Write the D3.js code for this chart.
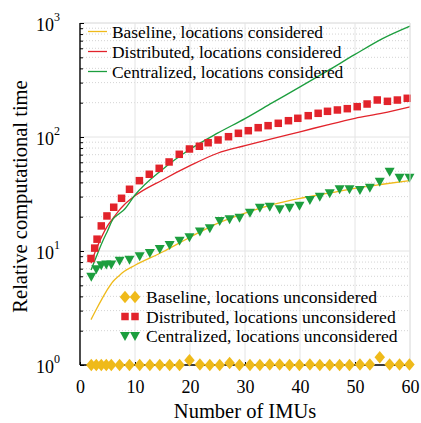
<!DOCTYPE html>
<html>
<head>
<meta charset="utf-8">
<script src="https://cdn.jsdelivr.net/npm/d3@7"></script>
<style>
  body { margin: 0; background: #fff; }
  svg text { font-family: "Liberation Serif", "DejaVu Serif", serif; }
</style>
</head>
<body>
<div id="graph"></div>
<script>

// lines: locations considered
const lineX = [2, 3, 4, 5, 6, 7, 8, 10, 15, 20, 25, 30, 35, 40, 45, 50, 55, 60];
const baselineCons    = [2.5, 3.1, 3.8, 4.6, 5.4, 6.0, 6.6, 7.5, 9.8, 13.2, 17.5, 21.5, 25.5, 29, 32, 35.5, 38.5, 41.5];
const distributedCons = [7.8, 10.5, 13.5, 16.6, 19.3, 22.4, 25.3, 30.5, 42, 56, 72, 84, 97, 111, 128, 146, 162, 184];
const centralizedCons = [6.8, 9, 11.8, 15, 19, 21, 23, 31, 52, 78, 108, 145, 200, 275, 380, 530, 730, 940];

// markers: locations unconsidered
const diamondX = [2.05, 2.96, 3.87, 4.78, 5.69, 7.2, 9.0, 10.85, 12.7, 14.5, 16.3, 18.1, 19.9, 21.8, 23.6,
  25.4, 27.2, 29.0, 30.9, 32.7, 34.5, 36.3, 38.1, 39.9, 41.8, 43.6, 45.4, 47.2, 49.0, 50.9, 52.7, 54.5, 56.3, 58.1, 59.9];
const baselineUncons = [1, 1, 1, 1, 1, 1, 1, 1, 1, 1, 1, 1, 1.1, 1.01, 1, 1, 1.04, 1, 1, 1, 1.01, 1.01, 1, 1, 1.01,
  1, 1, 1, 1, 1.01, 1.01, 1.17, 1.01, 1.01, 1.01];

const triangleX = diamondX;
const centralizedUncons = [5.95, 6.9, 7.5, 7.6, 7.6, 8.2, 8.4, 9.0, 9.6, 10.4, 11.3, 12.3, 13.2, 14.8, 15.8,
  18.3, 19.0, 19.6, 21.7, 24.0, 24.5, 23.2, 24, 25, 28, 29.9, 32.1, 34.8, 34.8, 34.3, 35.9, 40.5, 49.6, 44, 44];

const squareX = [2.0, 2.67, 3.1, 3.87, 4.9, 6.13, 7.55, 9.0, 10.8, 12.6, 14.4, 16.2, 18.05, 19.9, 21.7, 23.3,
  25.1, 27.0, 28.8, 30.6, 32.4, 34.2, 36.05, 37.9, 39.6, 41.5, 43.3, 45.0, 46.8, 48.6, 50.4, 52.2, 54.05, 55.9, 57.7, 59.5];
const distributedUncons = [8.6, 10.6, 12.7, 16.6, 20.3, 24.2, 29, 34.8, 41.4, 47.1, 53.1, 60.4, 70.5, 78.5, 83, 89.1,
  94.2, 100.6, 107.8, 113.6, 120.7, 125.7, 131.9, 139, 145.9, 153.8, 161.4, 168, 172.6, 177.2, 184.5, 194.7, 211.2, 205.6, 211, 218.5];

const xTicks = [0, 10, 20, 30, 40, 50, 60];
const yTicks = [1, 10, 100, 1000];

const legendTop = ["Baseline, locations considered", "Distributed, locations considered", "Centralized, locations considered"];
const legendBottom = ["Baseline, locations unconsidered", "Distributed, locations unconsidered", "Centralized, locations unconsidered"];

const yellow = "#EFBA1A", red = "#E2232B", green = "#1C9E3E";
const serif = "Liberation Serif";

var margin = {top: 23, right: 11, bottom: 58, left: 80},
    W = 421, H = 423,
    width = W - margin.left - margin.right,
    height = H - margin.top - margin.bottom;

var svg = d3.select("#graph").append("svg")
    .attr("width", W)
    .attr("height", H)
    .attr("font-family", serif)
  .append("g")
    .attr("transform", "translate(" + margin.left + "," + margin.top + ")");

var x = d3.scaleLinear().domain([0, 60]).range([0, width]);
var y = d3.scaleLog().domain([1, 1000]).range([height, 0]);

// minor dotted grid
var minor = [];
[1, 10, 100].forEach(function(d) {
  for (var k = 2; k <= 9; k++) minor.push(d * k);
});
svg.selectAll(".minorGrid")
  .data(minor)
  .enter().append("line")
  .attr("x1", 0).attr("x2", width)
  .attr("y1", d => y(d)).attr("y2", d => y(d))
  .attr("stroke", "#d4d4d4")
  .attr("stroke-width", 1)
  .attr("stroke-dasharray", "1,2");

// major grid
svg.selectAll(".majorGridY")
  .data(yTicks)
  .enter().append("line")
  .attr("x1", 0).attr("x2", width)
  .attr("y1", d => y(d)).attr("y2", d => y(d))
  .attr("stroke", "#e4e4e4");

svg.selectAll(".majorGridX")
  .data(xTicks.slice(1))
  .enter().append("line")
  .attr("x1", d => x(d)).attr("x2", d => x(d))
  .attr("y1", 0).attr("y2", height)
  .attr("stroke", "#e4e4e4");

// lines
var line = d3.line()
  .x(d => x(d[0]))
  .y(d => y(d[1]))
  .curve(d3.curveMonotoneX);

[[baselineCons, yellow], [distributedCons, red], [centralizedCons, green]].forEach(function(s) {
  svg.append("path")
    .datum(lineX.map((v, i) => [v, s[0][i]]))
    .attr("d", line)
    .attr("fill", "none")
    .attr("stroke", s[1])
    .attr("stroke-width", 1.3);
});

// marker shapes
function diamond(s) { return "M0," + (-s * 0.6) + "L" + (s * 0.5) + ",0L0," + (s * 0.6) + "L" + (-s * 0.5) + ",0Z"; }
function square(s) { return "M" + (-s / 2) + "," + (-s / 2) + "h" + s + "v" + s + "h" + (-s) + "Z"; }
function triangle(s) { return "M" + (-s / 2) + "," + (-s * 0.4) + "L" + (s / 2) + "," + (-s * 0.4) + "L0," + (s * 0.5) + "Z"; }

svg.selectAll(".sq")
  .data(squareX.map((v, i) => [v, distributedUncons[i]]))
  .enter().append("path")
  .attr("d", square(7.5))
  .attr("transform", d => "translate(" + x(d[0]) + "," + y(d[1]) + ")")
  .attr("fill", red);

svg.selectAll(".tri")
  .data(triangleX.map((v, i) => [v, centralizedUncons[i]]))
  .enter().append("path")
  .attr("d", triangle(10))
  .attr("transform", d => "translate(" + x(d[0]) + "," + y(d[1]) + ")")
  .attr("fill", green);

// top / right frame
svg.append("line").attr("x1", 0).attr("x2", width).attr("y1", 0).attr("y2", 0).attr("stroke", "#e4e4e4");
svg.append("line").attr("x1", width).attr("x2", width).attr("y1", 0).attr("y2", height).attr("stroke", "#e4e4e4");

// axes
var yAxis = svg.append("g")
  .call(d3.axisLeft(y).tickValues(minor.concat(yTicks)).tickSize(-3).tickFormat(""));
yAxis.select(".domain").attr("stroke", "#000").attr("stroke-width", 1.4).attr("d", "M0,0V" + height);
yAxis.selectAll(".tick line").attr("stroke", "#000").attr("x2", function(d) { return yTicks.indexOf(d) >= 0 ? 4 : 3; });

var xAxis = svg.append("g")
  .attr("transform", "translate(0," + height + ")")
  .call(d3.axisBottom(x).tickValues(xTicks).tickSize(-3).tickPadding(15).tickFormat(d3.format("d")));
xAxis.attr("font-family", serif).attr("font-size", 18);
xAxis.select(".domain").attr("stroke", "#000").attr("stroke-width", 1.4).attr("d", "M0,0H" + width);
xAxis.selectAll(".tick line").attr("stroke", "#000");
xAxis.selectAll("text")
  .attr("font-family", serif)
  .attr("font-size", "18px")
  .attr("fill", "#000");

// y tick labels 10^n
var ylab = svg.selectAll(".ylab")
  .data(yTicks)
  .enter().append("text")
  .attr("text-anchor", "end")
  .attr("x", -20)
  .attr("y", d => y(d) + 8)
  .attr("font-family", serif)
  .attr("font-size", "18px")
  .attr("fill", "#000");
ylab.append("tspan").text("10");
ylab.append("tspan")
  .text(d => Math.round(Math.log10(d)))
  .attr("font-size", "12px")
  .attr("dy", -10);

// diamonds drawn over axis
svg.selectAll(".dia")
  .data(diamondX.map((v, i) => [v, baselineUncons[i]]))
  .enter().append("path")
  .attr("d", diamond(10.5))
  .attr("transform", d => "translate(" + x(d[0]) + "," + y(d[1]) + ")")
  .attr("fill", yellow);

// axis titles
svg.append("text")
  .attr("x", width / 2)
  .attr("y", height + 53)
  .attr("text-anchor", "middle")
  .attr("font-family", serif)
  .attr("font-size", "20.5px")
  .text("Number of IMUs");

svg.append("text")
  .attr("transform", "translate(-53,173.5) rotate(-90)")
  .attr("text-anchor", "middle")
  .attr("font-family", serif)
  .attr("font-size", "20.5px")
  .text("Relative computational time");

// legend for lines
var lColors = [yellow, red, green];
legendTop.forEach(function(t, i) {
  var cy = 8.5 + i * 20;
  svg.append("line")
    .attr("x1", 8).attr("x2", 27)
    .attr("y1", cy).attr("y2", cy)
    .attr("stroke", lColors[i]).attr("stroke-width", 1.3);
  svg.append("text")
    .attr("x", 32).attr("y", cy + 6)
    .attr("font-family", serif)
    .attr("font-size", "17.4px")
    .text(t);
});

// legend for markers
var mShapes = [diamond(10.5), square(7.5), triangle(10)];
legendBottom.forEach(function(t, i) {
  var cy = 274 + i * 19.5;
  [45, 55].forEach(function(mx) {
    svg.append("path")
      .attr("d", mShapes[i])
      .attr("transform", "translate(" + mx + "," + cy + ")")
      .attr("fill", lColors[i]);
  });
  svg.append("text")
    .attr("x", 66).attr("y", cy + 6)
    .attr("font-family", serif)
    .attr("font-size", "17.6px")
    .text(t);
});

</script>
</body>
</html>
